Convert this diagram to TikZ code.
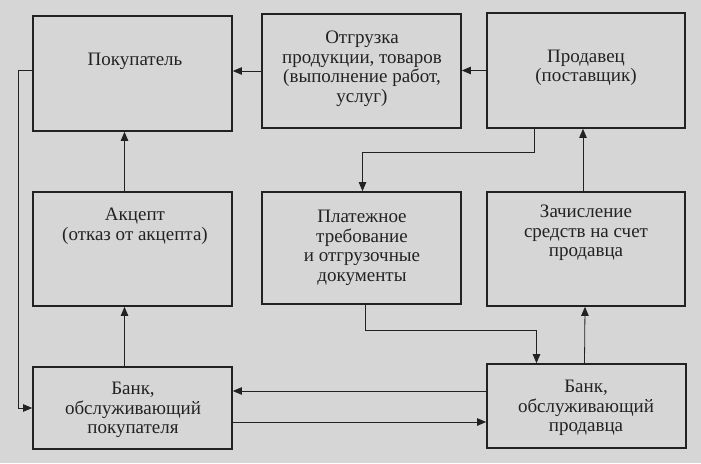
\documentclass[tikz,border=0pt]{standalone}
\usepackage{fontspec}
\setmainfont{Liberation Serif}
\usetikzlibrary{arrows.meta}
\definecolor{bg}{RGB}{214,214,214}
\definecolor{ink}{RGB}{34,34,34}
\begin{document}
\begin{tikzpicture}[x=1pt,y=-1pt,
  box/.style={draw=ink, line width=1.7pt, fill=bg, rectangle, inner sep=0pt},
  txt/.style={text=ink, align=center, inner sep=0pt, font=\fontsize{19pt}{19.5pt}\selectfont},
  arr/.style={draw=ink, line width=0.8pt, -{Triangle[length=9pt,width=7.5pt]}},
  ln/.style={draw=ink, line width=0.8pt}]
\fill[bg] (0,0) rectangle (701,463);
\useasboundingbox (0,0) rectangle (701,463);
% boxes
\node[box, minimum width=199pt, minimum height=115pt] (pok) at (132.5,73.5) {};
\node[box, minimum width=199pt, minimum height=114pt] (otg) at (361.5,71) {};
\node[box, minimum width=198pt, minimum height=115pt] (prod) at (586,70.5) {};
\node[box, minimum width=199pt, minimum height=114pt] (akc) at (132.5,249) {};
\node[box, minimum width=199pt, minimum height=112pt] (plat) at (361.5,248) {};
\node[box, minimum width=198pt, minimum height=114pt] (zach) at (586,249) {};
\node[box, minimum width=199pt, minimum height=82pt] (bpok) at (132.5,408) {};
\node[box, minimum width=199pt, minimum height=84pt] (bprod) at (586.5,406) {};
% texts
\node[txt] (tpok) at (135,61) {Покупатель};
\node[txt] (totg) at (362,69) {Отгрузка\\продукции, товаров\\(выполнение работ,\\услуг)};
\node[txt] (tprod) at (586,68) {Продавец\\(поставщик)};
\node[txt] (takc) at (135,226) {Акцепт\\(отказ от акцепта)};
\node[txt] (tplat) at (362,248) {Платежное\\требование\\и отгрузочные\\документы};
\node[txt] (tzach) at (586,233) {Зачисление\\средств на счет\\продавца};
\node[txt] (tbpok) at (133,410) {Банк,\\обслуживающий\\покупателя};
\node[txt] (tbprod) at (586,408) {Банк,\\обслуживающий\\продавца};
% coordinates
\coordinate (c1) at ([yshift=15pt]bprod.west);
\coordinate (c2) at ([yshift=-14pt]bpok.east);
\coordinate (c3) at ([yshift=39pt,xshift=1pt]plat.north);
\coordinate (c4) at ([yshift=-26pt,xshift=4pt]plat.south);
\coordinate (c5) at ([xshift=-50pt]bprod.north);
% connectors
\draw[arr] (otg.west) -- (pok.east |- otg.west);
\draw[arr] (prod.west) -- (otg.east |- prod.west);
\draw[arr] ([xshift=-52pt]prod.south) |- (c3) -- ([xshift=1pt]plat.north);
\draw[arr] ([xshift=-3pt]zach.north) -- ([xshift=-3pt]prod.south);
\draw[arr] ([xshift=-8pt]akc.north) -- ([xshift=-8pt]pok.south);
\draw[arr] ([xshift=-8pt]bpok.north) -- ([xshift=-8pt]akc.south);
\draw[arr] ([yshift=3pt]pok.west) -- ++(-14,0) |- (bpok.west);
\draw[arr] (c1) -- (bpok.east |- c1);
\draw[arr] (c2) -- (bprod.west |- c2);
\draw[arr] ([xshift=4pt]plat.south) -- (c4) -| (c5);
\draw[arr] ([xshift=-2pt]bprod.north) -- ([xshift=-1pt]zach.south);
\end{tikzpicture}
\end{document}
